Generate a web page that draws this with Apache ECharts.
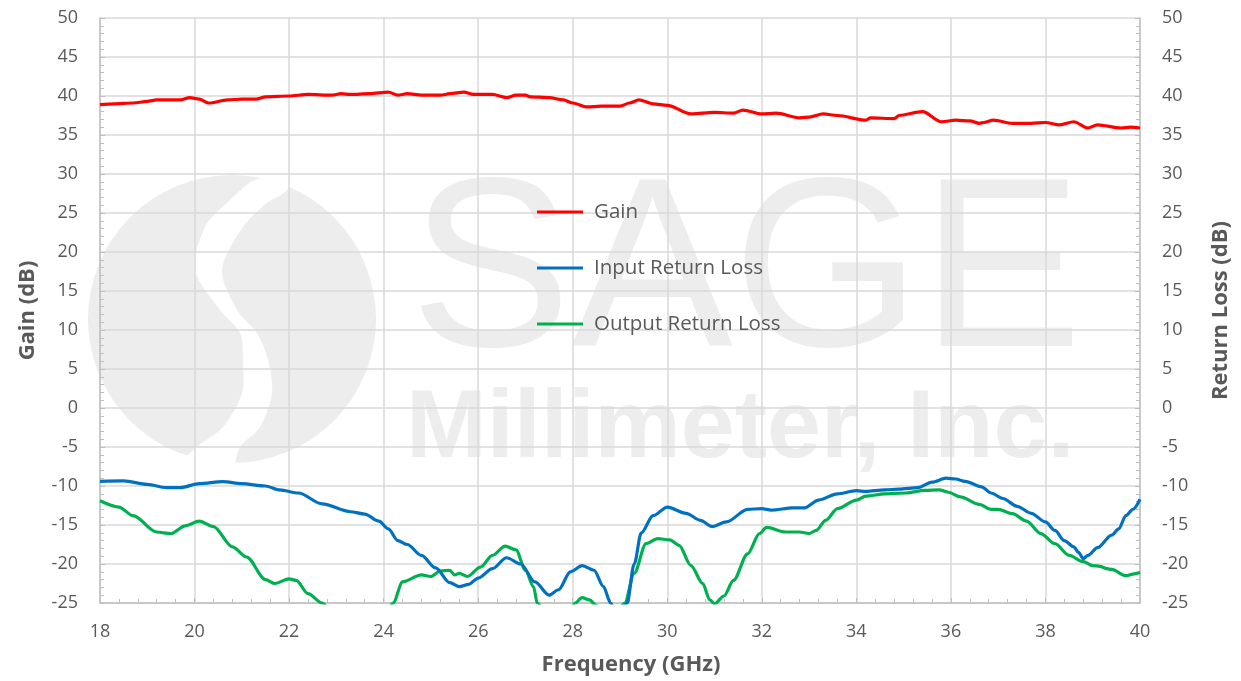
<!DOCTYPE html>
<html>
<head>
<meta charset="utf-8">
<script src="https://cdn.jsdelivr.net/npm/echarts@6/dist/echarts.min.js"></script>
<style>html,body{margin:0;padding:0;background:#fff;overflow:hidden}#c{width:1241px;height:681px}</style>
</head>
<body>
<div id="c"></div>
<script>
// ---- data ----
const xTicks = [18,20,22,24,26,28,30,32,34,36,38,40];
const yTicks = [-25,-20,-15,-10,-5,0,5,10,15,20,25,30,35,40,45,50];

const gainFreq = [18.0,18.3,18.7,19.0,19.2,19.5,19.7,19.9,20.1,20.3,20.7,21.0,21.3,21.5,22.0,22.4,22.9,23.1,23.3,23.7,24.1,24.3,24.5,24.8,25.2,25.4,25.7,25.9,26.3,26.6,26.8,27.0,27.1,27.5,27.8,28.0,28.3,28.6,29.0,29.2,29.4,29.7,30.0,30.5,31.0,31.4,31.6,32.0,32.3,32.8,33.0,33.3,33.6,34.2,34.3,34.8,34.9,35.4,35.8,36.1,36.4,36.6,36.7,36.9,37.3,37.7,38.0,38.3,38.6,38.9,39.1,39.6,39.8,40.0];
const gainDb   = [38.9,39.0,39.1,39.3,39.5,39.5,39.5,39.8,39.6,39.1,39.5,39.6,39.6,39.9,40.0,40.2,40.1,40.3,40.2,40.3,40.5,40.1,40.3,40.1,40.1,40.3,40.5,40.2,40.2,39.8,40.1,40.1,39.9,39.8,39.5,39.1,38.6,38.7,38.7,39.1,39.5,39.0,38.8,37.7,37.9,37.8,38.2,37.7,37.8,37.2,37.3,37.7,37.5,36.9,37.2,37.1,37.5,38.0,36.7,36.9,36.8,36.5,36.6,36.9,36.5,36.5,36.6,36.3,36.7,35.9,36.3,35.9,36.0,35.9];

const inFreq = [18.0,18.5,19.0,19.4,19.7,20.1,20.6,21.0,21.5,21.8,22.2,22.7,23.3,23.6,23.9,24.1,24.3,24.5,24.8,25.1,25.4,25.6,25.8,26.0,26.3,26.6,26.9,27.2,27.5,27.7,27.95,28.2,28.45,28.65,28.8,29.0,29.15,29.3,29.45,29.7,30.0,30.4,30.7,30.95,31.25,31.7,32.0,32.2,32.65,32.9,33.2,33.6,34.0,34.2,34.6,34.9,35.3,35.6,35.9,36.1,36.3,36.65,36.85,37.1,37.4,37.7,38.0,38.2,38.4,38.6,38.7,38.8,38.9,39.1,39.4,39.55,39.7,39.85,40.0];
const inDb   = [-9.4,-9.35,-9.8,-10.2,-10.2,-9.7,-9.45,-9.7,-10.0,-10.5,-10.9,-12.3,-13.3,-13.6,-14.5,-15.5,-17.0,-17.5,-18.9,-20.5,-22.4,-22.9,-22.6,-21.8,-20.6,-19.2,-20.0,-22.3,-24.0,-23.3,-21.0,-20.2,-20.8,-22.9,-25.0,-27.5,-25.0,-20.0,-16.0,-13.8,-12.7,-13.5,-14.4,-15.2,-14.6,-13.0,-12.9,-13.1,-12.8,-12.8,-11.8,-11.0,-10.6,-10.7,-10.5,-10.4,-10.2,-9.5,-9.0,-9.1,-9.4,-10.1,-10.9,-11.6,-12.6,-13.5,-14.6,-15.7,-17.0,-17.8,-18.5,-19.3,-18.9,-17.9,-16.3,-15.5,-13.8,-13.0,-11.7];

const outFreq = [18.0,18.4,18.7,19.2,19.5,19.8,20.1,20.4,20.8,21.1,21.5,21.7,22.0,22.15,22.4,22.7,23.0,23.5,24.0,24.2,24.4,24.8,25.0,25.2,25.4,25.5,25.6,25.77,26.05,26.3,26.57,26.8,27.0,27.17,27.25,27.5,27.9,28.05,28.2,28.35,28.5,28.8,29.1,29.3,29.55,29.8,30.05,30.25,30.5,30.75,30.9,31.0,31.2,31.4,31.7,31.95,32.1,32.5,32.8,33.0,33.15,33.35,33.6,34.0,34.2,34.6,35.05,35.45,35.75,35.95,36.2,36.6,36.85,37.0,37.3,37.6,37.9,38.2,38.5,38.8,39.0,39.15,39.3,39.4,39.7,39.85,40.0];
const outDb   = [-11.9,-12.7,-13.8,-15.9,-16.1,-15.1,-14.5,-15.2,-17.8,-19.1,-22.0,-22.5,-21.9,-22.1,-23.8,-25.0,-27.0,-28.5,-27.0,-25.0,-22.3,-21.4,-21.6,-20.9,-20.8,-21.4,-21.2,-21.6,-20.4,-18.9,-17.7,-18.2,-20.8,-22.9,-25.0,-27.0,-26.5,-25.0,-24.3,-24.6,-25.3,-27.5,-25.0,-21.2,-17.4,-16.75,-16.9,-17.6,-20.2,-22.5,-24.6,-25.1,-24.1,-22.1,-18.7,-16.1,-15.3,-15.9,-15.9,-16.1,-15.7,-14.4,-12.9,-11.8,-11.3,-11.0,-10.9,-10.55,-10.5,-10.8,-11.4,-12.35,-13.0,-13.0,-13.55,-14.5,-16.1,-17.4,-18.9,-19.7,-20.2,-20.3,-20.6,-20.7,-21.5,-21.3,-21.1];

const seriesNames = ['Gain','Input Return Loss','Output Return Loss'];

// ---- chart ----
const pairs = (xs, ys) => xs.map((x, i) => [x, ys[i]]);
const TXT = '#595959';
const FONT = 'Open Sans';
const WM = '#ededed';
const chart = echarts.init(document.getElementById('c'), null, {renderer: 'canvas', width: 1241, height: 681});

const yAxisBase = (pos, name, gap) => ({
  type: 'value', position: pos, min: yTicks[0], max: yTicks[yTicks.length - 1], interval: 5,
  name: name, nameLocation: 'middle', nameGap: gap,
  nameTextStyle: {color: TXT, fontSize: 22, fontWeight: 'bold', fontFamily: FONT},
  axisLine: {show: true, lineStyle: {color: '#bfbfbf', width: 1.5}},
  axisTick: {show: true, inside: true, length: 5, lineStyle: {color: '#bfbfbf'}},
  minorTick: {show: true, splitNumber: 5, length: 4, lineStyle: {color: '#bfbfbf'}},
  axisLabel: {color: TXT, fontSize: 18, fontFamily: FONT, margin: 22},
  splitLine: {show: pos === 'left', lineStyle: {color: '#d9d9d9', width: 1.5}}
});

// watermark "S" cut (white) inside the logo circle
const sCut = [[300,172],[255,180],[227,203],[205,227],[195,270],[220,310],[240,333],[243,360],[242,393],[223,427],[197,447],[180,466],[230,472],
              [240,447],[260,427],[272,393],[268,360],[257,333],[237,310],[222,270],[243,227],[267,203],[285,192]];

chart.setOption({
  animation: false,
  backgroundColor: '#fff',
  grid: {left: 100, right: 101, top: 18, bottom: 78, containLabel: false, outerBoundsMode: 'none'},
  graphic: [
    {type: 'circle', z: -10, shape: {cx: 232, cy: 319, r: 144}, style: {fill: WM}},
    {type: 'polygon', z: -9, shape: {points: sCut, smooth: 0.3}, style: {fill: '#ffffff'}},
    {type: 'text', z: -10, left: 410, top: 158, style: {text: 'SAGE', fontSize: 242, fontFamily: 'Liberation Sans', fill: WM}},
    {type: 'text', z: -10, left: 406, top: 382, style: {text: 'Millimeter, Inc.', fontSize: 97, fontWeight: 'bold', fontFamily: 'Liberation Sans', fill: WM}}
  ],
  legend: {
    data: seriesNames, orient: 'vertical', left: 532, top: 195, itemGap: 32,
    icon: 'rect', itemWidth: 46, itemHeight: 3,
    textStyle: {color: TXT, fontSize: 20.5, fontFamily: FONT, padding: [0, 0, 0, 6], lineHeight: 24}
  },
  xAxis: {
    type: 'value', min: xTicks[0], max: xTicks[xTicks.length - 1], interval: 2,
    name: 'Frequency (GHz)', nameLocation: 'middle', nameGap: 51,
    nameTextStyle: {color: TXT, fontSize: 22, fontWeight: 'bold', fontFamily: FONT, padding: [0, 0, 0, 22]},
    axisLine: {show: true, onZero: false, lineStyle: {color: '#bfbfbf', width: 1.5}},
    axisTick: {show: true, inside: true, length: 5, lineStyle: {color: '#bfbfbf'}},
    minorTick: {show: true, splitNumber: 5, length: 4, lineStyle: {color: '#bfbfbf'}},
    axisLabel: {color: TXT, fontSize: 18, fontFamily: FONT, margin: 20},
    splitLine: {show: true, lineStyle: {color: '#d9d9d9', width: 1.5}}
  },
  yAxis: [yAxisBase('left', 'Gain (dB)', 61), yAxisBase('right', 'Return Loss (dB)', 70)],
  series: [
    {name: seriesNames[0], type: 'line', yAxisIndex: 0, data: pairs(gainFreq, gainDb), showSymbol: false,
      smooth: 0.3, smoothMonotone: 'x', lineStyle: {color: '#ff0000', width: 3.2}, itemStyle: {color: '#ff0000'}, z: 5},
    {name: seriesNames[1], type: 'line', yAxisIndex: 1, data: pairs(inFreq, inDb), showSymbol: false,
      smooth: 0.3, smoothMonotone: 'x', lineStyle: {color: '#0070c0', width: 3.2}, itemStyle: {color: '#0070c0'}, z: 5},
    {name: seriesNames[2], type: 'line', yAxisIndex: 1, data: pairs(outFreq, outDb), showSymbol: false,
      smooth: 0.3, smoothMonotone: 'x', lineStyle: {color: '#00b050', width: 3.2}, itemStyle: {color: '#00b050'}, z: 4}
  ]
});
</script>
</body>
</html>
